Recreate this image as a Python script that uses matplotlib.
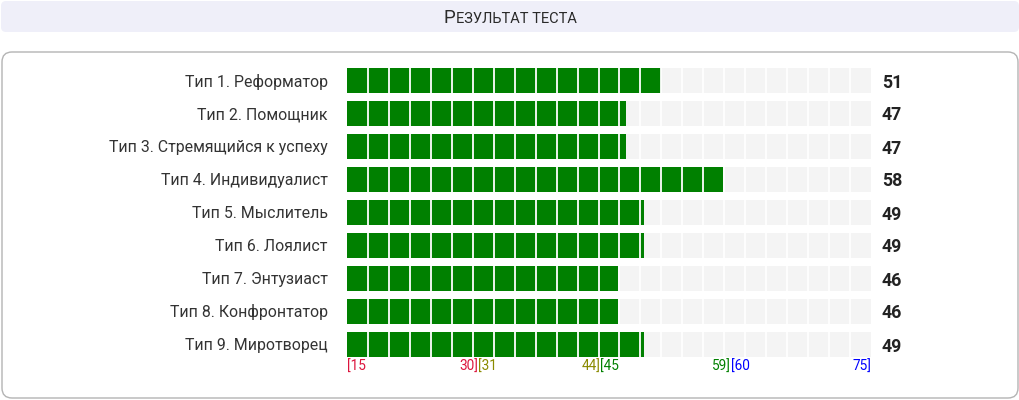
import matplotlib
matplotlib.use("Agg")
import matplotlib.pyplot as plt
from matplotlib.patches import FancyBboxPatch
import matplotlib.transforms as mtransforms

plt.rcParams['font.family'] = ['Roboto', 'DejaVu Sans']

# ---- data ----
categories = [
    "Тип 1. Реформатор",
    "Тип 2. Помощник",
    "Тип 3. Стремящийся к успеху",
    "Тип 4. Индивидуалист",
    "Тип 5. Мыслитель",
    "Тип 6. Лоялист",
    "Тип 7. Энтузиаст",
    "Тип 8. Конфронтатор",
    "Тип 9. Миротворец",
]
values = [51, 47, 47, 58, 49, 49, 46, 46, 49]
scale_min, scale_max = 15, 75
n_segments = 25
range_lows = [15, 31, 45, 60]
range_highs = [30, 44, 59, 75]
range_colors = ["#dc143c", "#8a8a00", "#008000", "#0000ff"]
title_first = "Р"
title_rest = "ЕЗУЛЬТАТ ТЕСТА"

W, H = 1020, 400
fig = plt.figure(figsize=(W / 100, H / 100), dpi=100)
fig.patch.set_facecolor("white")

# background / decoration axes in pixel coordinates
bg = fig.add_axes([0, 0, 1, 1])
bg.set_xlim(0, W)
bg.set_ylim(H, 0)
bg.axis("off")
bg.add_patch(FancyBboxPatch((1 + 5, 1 + 5), 1018 - 10, 31 - 10,
                            boxstyle="round,pad=5", fc="#efeff9", ec="none"))
bg.add_patch(FancyBboxPatch((2 + 10, 52 + 10), 1016 - 20, 346 - 20,
                            boxstyle="round,pad=10", fc="white", ec="#b4b4b4", lw=1.0))

# title in pseudo small caps
t1 = bg.text(0, 17, title_first, fontsize=13.5, color="#2a2a2a", va="baseline")
t2 = bg.text(0, 17, title_rest, fontsize=10.5, color="#2a2a2a", va="baseline")
fig.canvas.draw()
r = fig.canvas.get_renderer()
w1 = t1.get_window_extent(r).width
w2 = t2.get_window_extent(r).width
x0 = 510 - (w1 + w2 + 1) / 2
t1.set_position((x0, 23))
t2.set_position((x0 + w1 + 1, 23))

# main bars axes
left_px, right_px = 347, 871
top_px, bot_px = 63.5, 360.5
ax = fig.add_axes([left_px / W, 1 - bot_px / H, (right_px - left_px) / W, (bot_px - top_px) / H])
ax.set_xlim(scale_min, scale_max)
n = len(categories)
ax.set_ylim(n - 0.5, -0.5)
ypos = list(range(n))
bh = 25 / 33
ax.barh(ypos, [scale_max - scale_min] * n, left=scale_min, height=bh, color="#f4f4f4", zorder=1)
ax.barh(ypos, [v - scale_min for v in values], left=scale_min, height=bh, color="#008000", zorder=2)
step = (scale_max - scale_min) / n_segments
for k in range(1, n_segments):
    ax.axvline(scale_min + k * step, color="white", lw=1.3, zorder=3)

ax.set_yticks(ypos)
ax.set_yticklabels(categories, fontsize=11.4, color="#333333")
ax.tick_params(axis="y", length=0, pad=14)
ax.set_xticks([])
for s in ax.spines.values():
    s.set_visible(False)
ax.patch.set_alpha(0)

off = mtransforms.offset_copy(ax.transData, fig=fig, x=11, y=-2.5, units="dots")
for i, v in enumerate(values):
    ax.text(scale_max, i, str(v), transform=off, fontsize=12.8, fontweight="bold",
            color="#222222", va="center", ha="left")

# range labels under the bars
lab_tr = mtransforms.blended_transform_factory(ax.transData, bg.transData)
for j, (lo, hi, c) in enumerate(zip(range_lows, range_highs, range_colors)):
    xl = lo if j == 0 else range_highs[j - 1]
    ax.text(xl, 367, "[" + str(lo), transform=lab_tr, fontsize=9.8, color=c,
            ha="left", va="center")
    ax.text(hi, 367, str(hi) + "]", transform=lab_tr, fontsize=9.8, color=c,
            ha="right", va="center")

fig.savefig("out.png", dpi=100, facecolor="white")
